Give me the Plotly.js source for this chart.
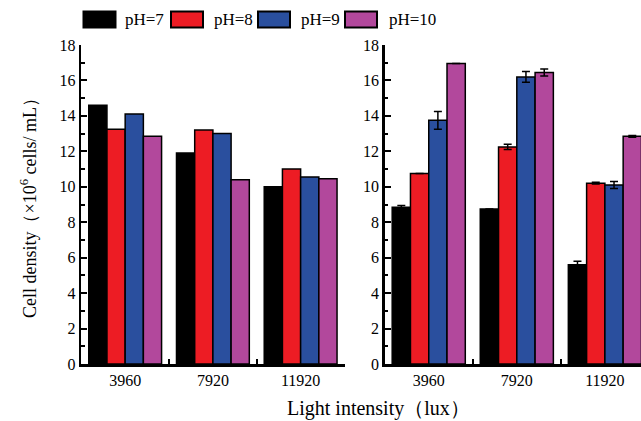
<!DOCTYPE html>
<html>
<head>
<meta charset="utf-8">
<script src="https://cdn.plot.ly/plotly-3.0.1.min.js"></script>
<style>html,body{margin:0;padding:0;overflow:hidden;background:#fff}#chart{width:641px;height:421px}</style>
</head>
<body>
<div id="chart"></div>
<script>
// ---- data ----
const categories = ['3960', '7920', '11920'];
const seriesNames = ['pH=7', 'pH=8', 'pH=9', 'pH=10'];
const seriesColors = ['#000000', '#ED1C24', '#2A4F9E', '#B2489C'];

// left panel
const leftPH7 = [14.6, 11.9, 10.0];
const leftPH8 = [13.25, 13.2, 11.0];
const leftPH9 = [14.1, 13.0, 10.55];
const leftPH10 = [12.85, 10.4, 10.45];

// right panel
const rightPH7 = [8.85, 8.75, 5.6];
const rightPH8 = [10.75, 12.25, 10.2];
const rightPH9 = [13.75, 16.2, 10.1];
const rightPH10 = [16.95, 16.45, 12.85];
const rightErrPH7 = [0.1, 0, 0.2];
const rightErrPH8 = [0, 0.15, 0.05];
const rightErrPH9 = [0.5, 0.3, 0.2];
const rightErrPH10 = [0, 0.2, 0.05];

const yTickVals = [0, 2, 4, 6, 8, 10, 12, 14, 16, 18];

// ---- build ----
const W = 641, H = 421;
const px = v => v / W;
const py = v => 1 - v / H;
const FONT = 'Liberation Serif, Times New Roman, serif';

const leftVals = [leftPH7, leftPH8, leftPH9, leftPH10];
const rightVals = [rightPH7, rightPH8, rightPH9, rightPH10];
const rightErrs = [rightErrPH7, rightErrPH8, rightErrPH9, rightErrPH10];

const traces = [];
seriesNames.forEach((n, i) => {
  traces.push({
    type: 'bar', x: categories, y: leftVals[i], name: n, xaxis: 'x', yaxis: 'y',
    marker: {color: seriesColors[i], line: {color: '#000', width: 1.5}},
    showlegend: false, offsetgroup: 'g' + i
  });
});
seriesNames.forEach((n, i) => {
  traces.push({
    type: 'bar', x: categories, y: rightVals[i], name: n, xaxis: 'x2', yaxis: 'y2',
    marker: {color: seriesColors[i], line: {color: '#000', width: 1.5}},
    error_y: {type: 'data', array: rightErrs[i], visible: true, color: '#000', thickness: 1.5, width: 4},
    showlegend: false, offsetgroup: 'g' + i
  });
});

const yDomain = [py(364), py(45)];
const yAxisCommon = {
  range: [0, 18], tickvals: yTickVals, ticks: 'inside', ticklen: 6, tickwidth: 2,
  tickcolor: '#000', showline: true, linecolor: '#000', linewidth: 2.5, showgrid: false,
  zeroline: false, fixedrange: true,
  tickfont: {family: FONT, size: 16, color: '#000'},
  minor: {dtick: 1, tick0: 0, ticks: 'inside', ticklen: 3.5, tickwidth: 2, tickcolor: '#000', showgrid: false},
  domain: yDomain
};
const xAxisCommon = {
  type: 'category', tickson: 'boundaries', ticks: 'inside', ticklen: 5, tickwidth: 2,
  tickcolor: '#000', showline: true, linecolor: '#000', linewidth: 2.5, showgrid: false,
  zeroline: false, fixedrange: true,
  tickfont: {family: FONT, size: 16, color: '#000'}
};

const layout = {
  width: W, height: H,
  margin: {l: 0, r: 0, t: 0, b: 0},
  paper_bgcolor: '#fff', plot_bgcolor: 'rgba(0,0,0,0)',
  barmode: 'group', bargap: 0.17, bargroupgap: 0,
  showlegend: false,
  xaxis: Object.assign({}, xAxisCommon, {domain: [px(81.3), px(344.5)], range: [-0.5, 2.5], anchor: 'y'}),
  yaxis: Object.assign({}, yAxisCommon, {anchor: 'x'}),
  xaxis2: Object.assign({}, xAxisCommon, {domain: [px(384.7), 1], range: [-0.5, 2.41], anchor: 'y2'}),
  yaxis2: Object.assign({}, yAxisCommon, {anchor: 'x2'}),
  shapes: [],
  annotations: [
    {xref: 'paper', yref: 'paper', x: px(28), y: py(204), text: 'Cell density（×10<sup>6</sup> cells/ mL）',
     textangle: -90, showarrow: false, xanchor: 'center', yanchor: 'middle',
     font: {family: FONT, size: 18, color: '#000'}},
    {xref: 'paper', yref: 'paper', x: px(378), y: py(408), text: 'Light intensity（lux）',
     showarrow: false, xanchor: 'center', yanchor: 'middle',
     font: {family: FONT, size: 20, color: '#000'}}
  ]
};

// custom legend (boxes + labels)
const legBoxX = [83.5, 171, 258, 345];
const legTextX = [123, 212, 299, 387];
seriesNames.forEach((n, i) => {
  layout.shapes.push({type: 'rect', xref: 'paper', yref: 'paper',
    x0: px(legBoxX[i]), x1: px(legBoxX[i] + 32), y0: py(27.5), y1: py(11.5),
    fillcolor: seriesColors[i], line: {color: '#000', width: 2}});
  layout.annotations.push({xref: 'paper', yref: 'paper', x: px(legTextX[i]), y: py(19.5),
    text: n, showarrow: false, xanchor: 'left', yanchor: 'middle',
    font: {family: FONT, size: 17, color: '#000'}});
});

Plotly.newPlot('chart', traces, layout, {staticPlot: true, displayModeBar: false});
</script>
</body>
</html>
